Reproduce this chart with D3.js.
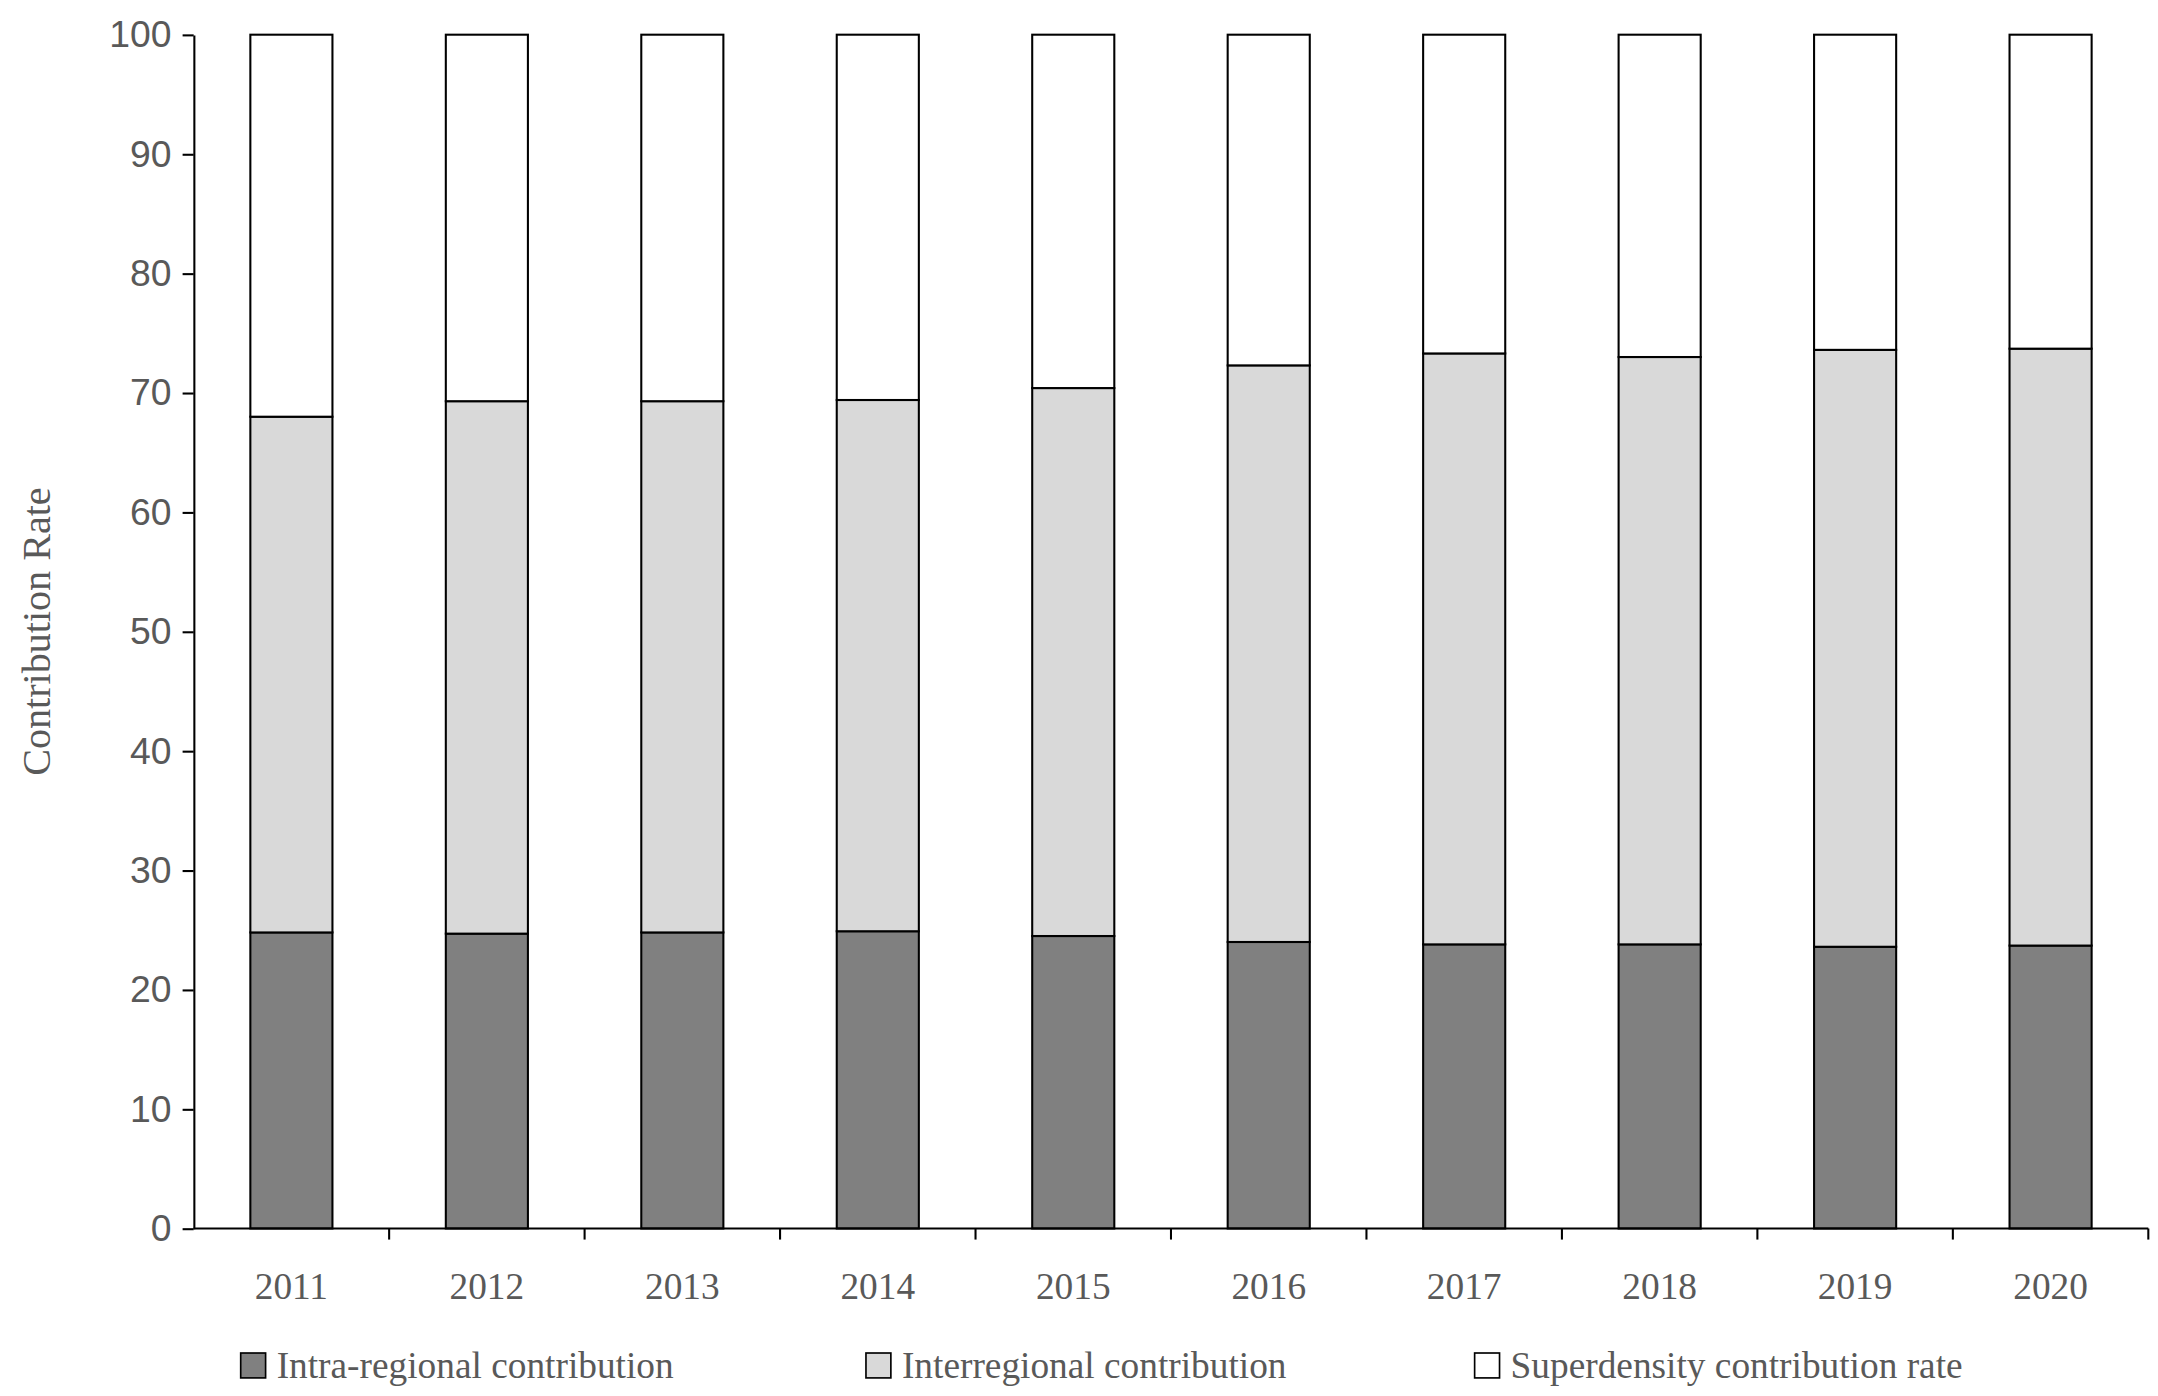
<!DOCTYPE html>
<html><head><meta charset="utf-8">
<script src="https://cdn.jsdelivr.net/npm/d3@7"></script>
<style>body{margin:0;background:#fff}</style>
</head><body>
<script>
const years = ["2011","2012","2013","2014","2015","2016","2017","2018","2019","2020"];
const intra = [24.8, 24.7, 24.8, 24.9, 24.5, 24.0, 23.8, 23.8, 23.6, 23.7];
const inter = [43.2, 44.6, 44.5, 44.5, 45.9, 48.3, 49.5, 49.2, 50.0, 50.0];
const superd = years.map((d, i) => 100 - intra[i] - inter[i]);
const seriesNames = ["Intra-regional contribution", "Interregional contribution", "Superdensity contribution rate"];
const colors = ["#808080", "#d9d9d9", "#ffffff"];

const W = 1560, H = 1009;
const svg = d3.select("body").append("svg")
  .attr("width", 2158).attr("height", 1396)
  .attr("viewBox", `0 0 ${W} ${H}`)
  .style("font-family", "'Liberation Serif', serif");

const x0 = 140, x1 = 1553, yTop = 25, yBot = 888;
const x = d3.scaleBand().domain(years).range([x0, x1]).paddingInner(0.58).paddingOuter(0.29);
const y = d3.scaleLinear().domain([0, 100]).range([yBot, yTop]);

const table = years.map((yr, i) => ({year: yr, s0: intra[i], s1: inter[i], s2: superd[i]}));
const stack = d3.stack().keys(["s0", "s1", "s2"])(table);

svg.append("g").selectAll("g").data(stack).join("g")
  .attr("fill", (d, i) => colors[i])
  .selectAll("rect").data(d => d).join("rect")
  .attr("x", d => x(d.data.year))
  .attr("width", x.bandwidth())
  .attr("y", d => y(d[1]))
  .attr("height", d => y(d[0]) - y(d[1]))
  .attr("stroke", "#000").attr("stroke-width", 1.5);

// y axis
const ya = svg.append("g").attr("transform", `translate(${x0},0)`)
  .call(d3.axisLeft(y).ticks(10).tickSize(8).tickSizeOuter(0));
ya.select(".domain").attr("stroke", "#000").attr("stroke-width", 1.5);
ya.selectAll(".tick line").attr("stroke", "#000").attr("stroke-width", 1.5);
ya.selectAll("text").attr("font-size", 27).attr("fill", "#595959").attr("x", -16);

// x axis with ticks at category boundaries
const step = x.step();
const xa = svg.append("g").attr("transform", `translate(0,${yBot})`);
xa.append("line").attr("x1", x0).attr("x2", x1).attr("stroke", "#000").attr("stroke-width", 1.5);
xa.selectAll("line.t").data(years).join("line").attr("class", "t")
  .attr("x1", d => x(d) + x.bandwidth() / 2 + step / 2)
  .attr("x2", d => x(d) + x.bandwidth() / 2 + step / 2)
  .attr("y1", 0).attr("y2", 8).attr("stroke", "#000").attr("stroke-width", 1.5);
xa.selectAll("text").data(years).join("text")
  .attr("x", d => x(d) + x.bandwidth() / 2).attr("y", 51)
  .attr("text-anchor", "middle").attr("font-size", 27).attr("fill", "#595959")
  .text(d => d);

svg.append("text").attr("transform", `translate(36,${(yTop + yBot) / 2}) rotate(-90)`)
  .attr("text-anchor", "middle").attr("font-size", 29).attr("fill", "#595959")
  .text("Contribution Rate");

// legend
const legX = [174, 626, 1066];
const lg = svg.append("g").selectAll("g").data(seriesNames).join("g")
  .attr("transform", (d, i) => `translate(${legX[i]},978)`);
lg.append("rect").attr("width", 18).attr("height", 18).attr("y", 0)
  .attr("fill", (d, i) => colors[i]).attr("stroke", "#000").attr("stroke-width", 1.2);
lg.append("text").attr("x", 26).attr("y", 18).attr("font-size", 27).attr("fill", "#595959")
  .text(d => d);
</script>
</body></html>
